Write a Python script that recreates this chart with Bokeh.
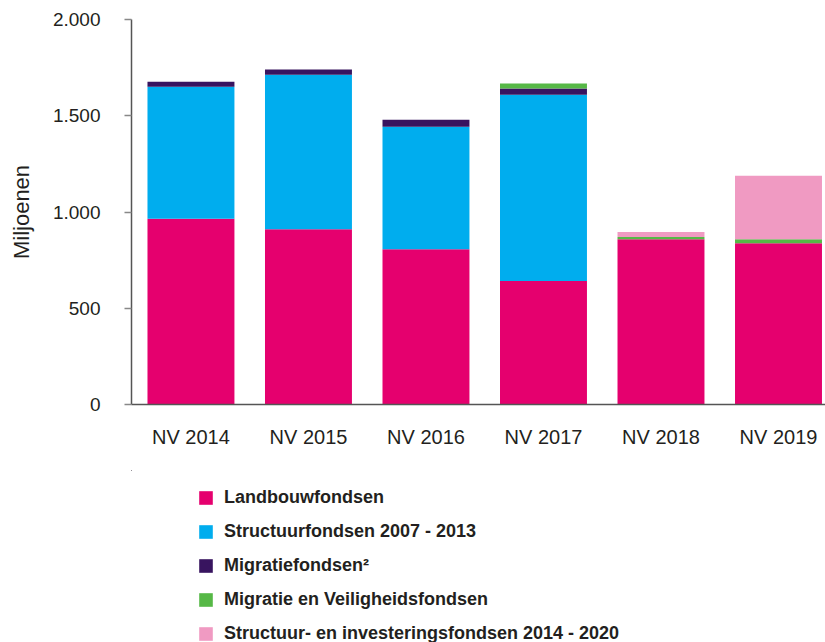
from bokeh.plotting import figure
from bokeh.layouts import column
from bokeh.models import ColumnDataSource, Range1d, FixedTicker, Legend, LegendItem
from bokeh.embed import file_html
from bokeh.resources import INLINE

years = ["NV 2014", "NV 2015", "NV 2016", "NV 2017", "NV 2018", "NV 2019"]
landbouw = [965, 910, 807, 641, 859, 838]
structuur_0713 = [686, 803, 636, 968, 0, 0]
migratie = [26, 27, 36, 32, 0, 0]
migratie_veiligheid = [0, 0, 0, 26, 11, 21]
structuur_1420 = [0, 0, 0, 0, 26, 329]

series_names = ["Landbouwfondsen", "Structuurfondsen 2007 - 2013", "Migratiefondsen²",
                "Migratie en Veiligheidsfondsen", "Structuur- en investeringsfondsen 2014 - 2020"]
series_keys = ["landbouw", "structuur_0713", "migratie", "migratie_veiligheid", "structuur_1420"]
colors = ["#E5006E", "#00ADEE", "#38145F", "#56B846", "#F09AC2"]

y_ticks = [0, 500, 1000, 1500, 2000]
y_tick_labels = ["0", "500", "1.000", "1.500", "2.000"]

data = dict(x=list(range(len(years))), landbouw=landbouw, structuur_0713=structuur_0713,
            migratie=migratie, migratie_veiligheid=migratie_veiligheid,
            structuur_1420=structuur_1420)
source = ColumnDataSource(data)

TEXT = "#231F20"
FONT = "Liberation Sans"

p = figure(width=825, height=470, output_backend="svg", toolbar_location=None,
           x_range=Range1d(-0.506, 5.40), y_range=Range1d(0, 2000),
           min_border_top=19, min_border_left=131, min_border_right=0, min_border_bottom=66)
p.outline_line_color = None
p.grid.grid_line_color = None
p.background_fill_color = "white"
p.border_fill_color = "white"

p.vbar_stack(series_keys, x="x", width=0.74, color=colors, source=source, line_color=None)

# x axis
p.xaxis.ticker = FixedTicker(ticks=list(range(len(years))))
p.xaxis.major_label_overrides = {i: y for i, y in enumerate(years)}
p.xaxis.major_tick_line_color = None
p.xaxis.minor_tick_line_color = None
p.xaxis.axis_line_color = "#555555"
p.xaxis.axis_line_width = 1.5
p.xaxis.major_label_text_font = FONT
p.xaxis.major_label_text_font_size = "20px"
p.xaxis.major_label_text_color = TEXT
p.xaxis.major_label_standoff = 15

# y axis
p.yaxis.ticker = FixedTicker(ticks=y_ticks)
p.yaxis.major_label_overrides = {t: l for t, l in zip(y_ticks, y_tick_labels)}
p.yaxis.minor_tick_line_color = None
p.yaxis.major_tick_in = 0
p.yaxis.major_tick_out = 7
p.yaxis.major_tick_line_color = "#888888"
p.yaxis.major_tick_line_width = 1.5
p.yaxis.axis_line_color = "#555555"
p.yaxis.axis_line_width = 1.5
p.yaxis.major_label_text_font = FONT
p.yaxis.major_label_text_font_size = "19px"
p.yaxis.major_label_text_color = TEXT
p.yaxis.major_label_standoff = 24
p.yaxis.axis_label = "Miljoenen"
p.yaxis.axis_label_text_font = FONT
p.yaxis.axis_label_text_font_size = "22px"
p.yaxis.axis_label_text_font_style = "normal"
p.yaxis.axis_label_text_color = TEXT
p.yaxis.axis_label_standoff = 16

# legend panel (a second figure, its bars lie out of view, used only for the legend)
lg = figure(width=825, height=172, output_backend="svg", toolbar_location=None,
            x_axis_type=None, y_axis_type=None,
            x_range=Range1d(100, 101), y_range=Range1d(-20, -10),
            min_border_top=0, min_border_left=131, min_border_right=0, min_border_bottom=0)
lg.grid.grid_line_color = None
lg.outline_line_color = None
lg_renderers = lg.vbar_stack(series_keys, x="x", width=0.74, color=colors, source=source,
                             line_color=None)

items = [LegendItem(label=n, renderers=[r]) for n, r in zip(series_names, lg_renderers)]
legend = Legend(items=items, orientation="vertical", location=(66, -2),
                glyph_width=17, glyph_height=17, label_height=17, spacing=13,
                label_standoff=10, padding=0, margin=0, border_line_color=None,
                background_fill_alpha=0,
                label_text_font=FONT, label_text_font_size="18px",
                label_text_font_style="bold", label_text_color=TEXT)
lg.add_layout(legend, "center")

layout = column(p, lg, spacing=0)
open("out.html", "w").write(file_html(layout, INLINE))
